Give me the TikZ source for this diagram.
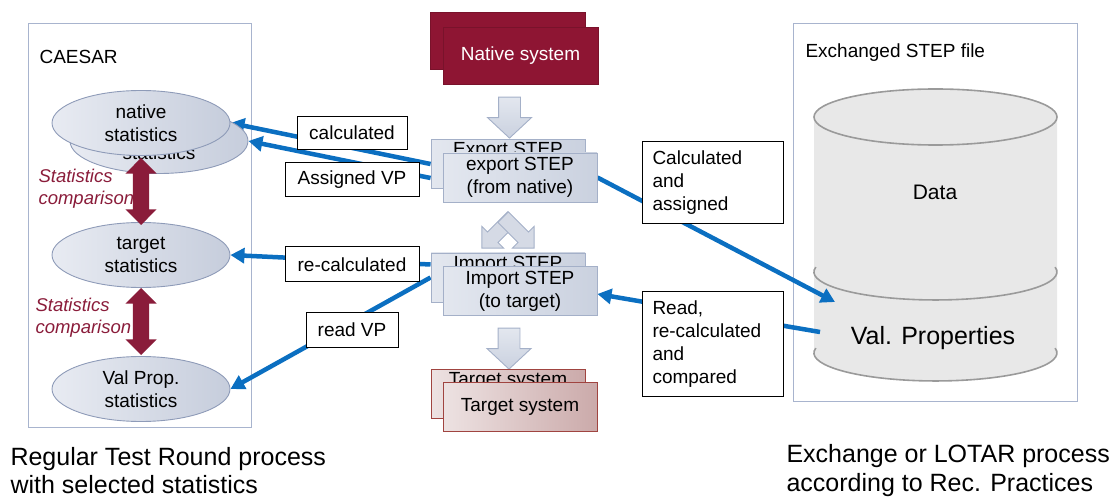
\documentclass[tikz,border=0pt]{standalone}
\usepackage{fontspec}
\setmainfont{Liberation Sans}
\usetikzlibrary{shapes,arrows,positioning,backgrounds,arrows.meta}

\definecolor{vpblue}{HTML}{0B6FC1}
\definecolor{caered}{HTML}{8E1533}
\definecolor{cmpred}{HTML}{8A1C3A}
\definecolor{frameblue}{HTML}{A8B4CE}
\definecolor{ellline}{HTML}{8E9BB8}
\definecolor{elllight}{HTML}{E8EBF2}
\definecolor{elldark}{HTML}{C6CDDC}
\definecolor{boxline}{HTML}{A4B0C8}
\definecolor{boxlight}{HTML}{E3E7EF}
\definecolor{boxdark}{HTML}{CAD1DF}
\definecolor{tgtline}{HTML}{A04440}
\definecolor{tgtlight}{HTML}{EDE2E2}
\definecolor{tgtdark}{HTML}{CBAAAA}
\definecolor{cylfill}{HTML}{E8E8E8}
\definecolor{cylline}{HTML}{9A9A9A}

\tikzset{
  panel/.style={rectangle, draw=frameblue, line width=1.3pt, anchor=north west},
  statell/.style={ellipse, draw=ellline, line width=0.9pt, left color=elllight, right color=elldark,
    minimum width=178pt, minimum height=65pt, inner sep=0pt, align=center},
  cmparrow/.style={double arrow, fill=cmpred, draw=none, rotate=90, minimum height=67pt,
    minimum width=31pt, inner sep=8pt, double arrow head extend=7.5pt},
  cmptext/.style={anchor=west, align=left, text=cmpred, font=\fontsize{18.5}{22}\selectfont\itshape},
  stepbox/.style={rectangle, draw=boxline, line width=0.9pt, left color=boxlight, right color=boxdark,
    minimum width=154pt, minimum height=49pt, inner sep=0pt, align=center},
  nativebox/.style={rectangle, draw=caered!85!black, fill=caered, text=white,
    minimum width=155pt, minimum height=57pt, inner sep=0pt},
  targetbox/.style={rectangle, draw=tgtline, line width=0.9pt, left color=tgtlight, right color=tgtdark,
    minimum width=154pt, minimum height=49pt, inner sep=0pt, align=center},
  flowarrow/.style={single arrow, draw=boxline, line width=0.9pt, top color=boxlight, bottom color=boxdark,
    rotate=-90, minimum height=41pt, minimum width=43pt, inner sep=10.5pt,
    single arrow head extend=11pt, single arrow tip angle=94},
  crossarrow/.style={single arrow, draw=boxline, line width=0.9pt, fill=boxdark!80!white,
    minimum height=44pt, minimum width=30pt, inner sep=7pt, single arrow head extend=8pt},
  lbl/.style={rectangle, draw=black, line width=1pt, fill=white, inner sep=0pt},
  caption/.style={anchor=west, align=left, font=\fontsize{25}{28.5}\selectfont},
  vparrow/.style={draw=vpblue, line width=4.5pt, -{Triangle[length=14pt,width=15pt]}}
}

\begin{document}
\begin{tikzpicture}[x=1pt, y=-1pt, font=\fontsize{19}{23}\selectfont]
  \useasboundingbox (0,0) rectangle (1120,497);

  % CAESAR side
  \node[anchor=west] (caesarlbl) at (36,57) {CAESAR};
  \node[statell] (natback) at (159,141) {native\\statistics};
  \node[statell] (natstat) at (141,123) {native\\statistics};
  \node[statell] (tgtstat) at (141,255) {target\\statistics};
  \node[statell] (vpstat) at (141,389) {Val Prop.\\statistics};

  \node[cmptext] (cmp1) at (35,189) {Statistics\\comparison};
  \node[cmptext] (cmp2) at (32,318) {Statistics\\comparison};
  \node[cmparrow] (dbl1) at (141,191.5) {};
  \node[cmparrow] (dbl2) at (141,321.5) {};

  % process column
  \node[nativebox] (natsysback) at (507.5,40.5) {};
  \node[nativebox] (natsys) at (520.5,56) {Native system};
  \node[flowarrow] (down1) at (509.5,112.5) {};

  \node[stepbox] (exportback) at (508,164) {Export STEP\\\strut};
  \node[stepbox] (export) at (520,177.5) {export STEP\\(from native)};

  \node[crossarrow, rotate=-135] (crossl) at (500,230) {};
  \node[crossarrow, rotate=-45] (crossr) at (516,230) {};

  \node[stepbox] (importback) at (508,277.5) {Import STEP\\\strut};
  \node[stepbox] (import) at (520,291) {Import STEP\\(to target)};
  \node[flowarrow] (down2) at (509,343.5) {};

  \node[targetbox] (tgtsysback) at (508,393.5) {Target system\\\strut};
  \node[targetbox] (tgtsys) at (520,406.5) {Target system};

  % exchanged file side
  \node[anchor=west] (xchlbl) at (802,53) {Exchanged STEP file};
  \node (data) at (935,192) {\fontsize{21}{25}\selectfont Data};
  \node (valprop) at (933,338) {\fontsize{25}{29}\selectfont Val. Properties};
  \coordinate (vpin) at (835,302);
  \coordinate (vpout) at (820,332);

  % labels on connectors
  \node[lbl, minimum width=110pt, minimum height=33pt] (lcalc) at (352,133) {calculated};
  \node[lbl, minimum width=134pt, minimum height=34pt] (lassig) at (352,180) {Assigned VP};
  \node[lbl, minimum width=134pt, minimum height=35pt] (lrecalc) at (352,264.5) {re-calculated};
  \node[lbl, minimum width=92pt, minimum height=34pt] (lread) at (352,330) {read VP};
  \node[lbl, anchor=north west, align=left, text width=121pt, inner xsep=10pt,
    minimum height=82pt] (lcalcas) at (642,141) {Calculated\\and\\assigned};
  \node[lbl, anchor=north west, align=left, text width=121pt, inner xsep=10pt,
    minimum height=105pt] (lreadre) at (642,291) {Read,\\re-calculated\\and\\compared};

  % bottom captions
  \node[caption] (rtrcap) at (7,470.5) {Regular Test Round process\\with selected statistics};
  \node[caption] (lotarcap) at (783,470.5) {Exchange or LOTAR process\\according to Rec. Practices};

  \begin{scope}[on background layer]
    \node[panel, minimum width=223pt, minimum height=404pt] (caesar) at (28,23) {};
    \node[panel, minimum width=284pt, minimum height=378pt] (xchfile) at (793,23) {};
    % cylinder
    \fill[cylfill] (814,117) -- (814,353) arc[start angle=180, end angle=0, x radius=121.5, y radius=28] -- (1057,117) -- cycle;
    \draw[cylline, line width=1.6pt, fill=cylfill] (935.5,117) ellipse [x radius=121.5, y radius=28];
    \draw[cylline, line width=1.6pt] (815.8,267.1) arc[start angle=190, end angle=-10, x radius=121.5, y radius=28];
    \draw[cylline, line width=1.6pt] (815.8,348.1) arc[start angle=190, end angle=-10, x radius=121.5, y radius=28];
    % connectors
    \draw[vparrow] (exportback.west) -- (natstat.east);
    \draw[vparrow] ([yshift=-14pt]exportback.west) -- (natback.east);
    \draw[vparrow] ([yshift=13pt]importback.west) -- (tgtstat.east);
    \draw[vparrow] (importback.west) -- (vpstat.east);
    \draw[vparrow] (export.east) -- (vpin);
    \draw[vparrow] (vpout) -- ([yshift=-3pt]import.east);
  \end{scope}
\end{tikzpicture}
\end{document}
